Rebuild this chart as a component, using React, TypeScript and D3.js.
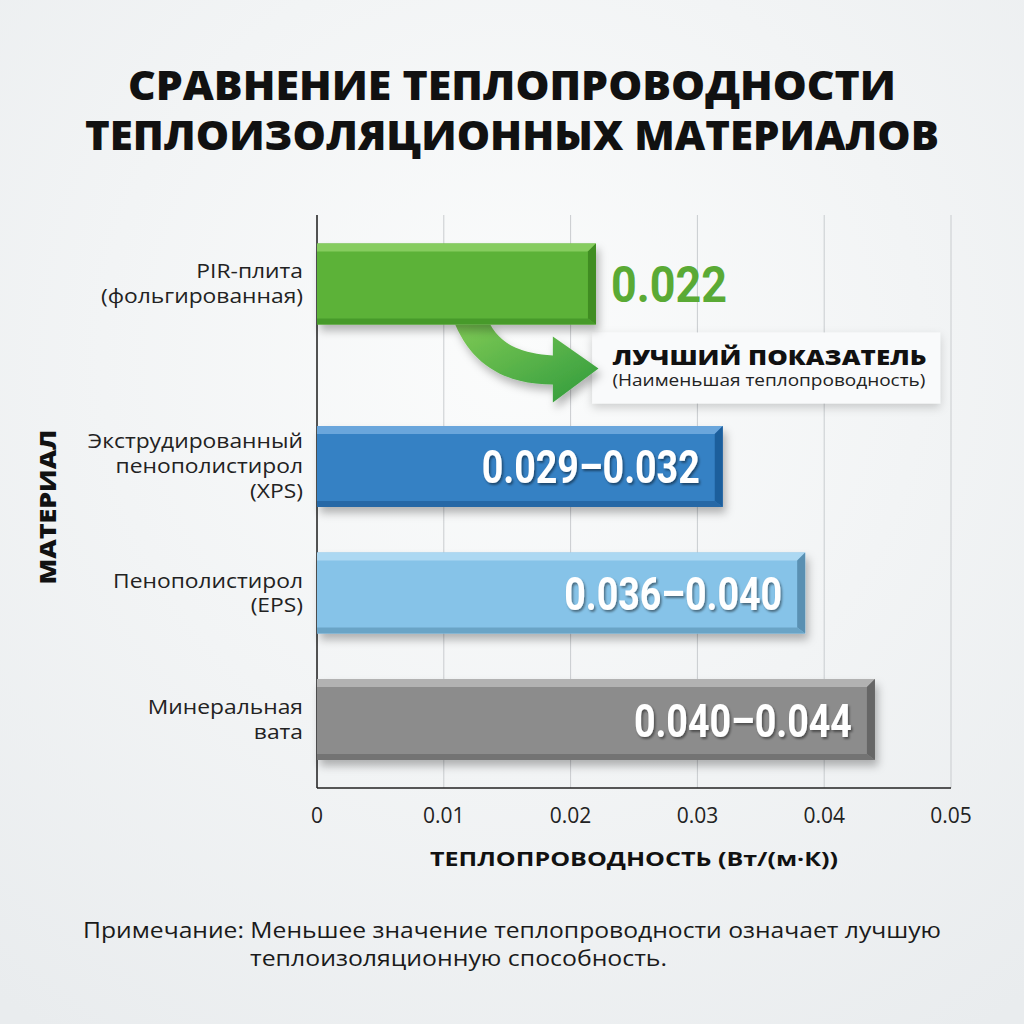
import React from 'react';
import * as d3 from 'd3';

// chart data
const materials = ['PIR', 'XPS', 'EPS', 'MW'];
const materialLabels = [
  ['PIR-плита', '(фольгированная)'],
  ['Экструдированный', 'пенополистирол', '(XPS)'],
  ['Пенополистирол', '(EPS)'],
  ['Минеральная', 'вата'],
];
const barValues = [0.022, 0.032, 0.0385, 0.044];
const valueLabels = ['0.022', '0.029–0.032', '0.036–0.040', '0.040–0.044'];
const xTicks = [0, 0.01, 0.02, 0.03, 0.04, 0.05];

const titleLines = ['СРАВНЕНИЕ ТЕПЛОПРОВОДНОСТИ', 'ТЕПЛОИЗОЛЯЦИОННЫХ МАТЕРИАЛОВ'];
const xTitle = 'ТЕПЛОПРОВОДНОСТЬ (Вт/(м·К))';
const yTitle = 'МАТЕРИАЛ';
const calloutTitle = 'ЛУЧШИЙ ПОКАЗАТЕЛЬ';
const calloutSub = '(Наименьшая теплопроводность)';
const noteLines = [
  'Примечание: Меньшее значение теплопроводности означает лучшую',
  'теплоизоляционную способность.',
];

// bar palettes: face, top bevel, right bevel, bottom bevel
const palettes = [
  { face: '#5cb238', top: '#86cc5e', right: '#3f8d24', bottom: '#469a2b' },
  { face: '#3481c4', top: '#6aa6dc', right: '#1f5f9c', bottom: '#2768a6' },
  { face: '#86c3e8', top: '#acd8f2', right: '#5a90b2', bottom: '#6ba4c6' },
  { face: '#8c8c8c', top: '#b2b2b2', right: '#666666', bottom: '#737373' },
];

const W = 1024;
const H = 1024;
const plot = { left: 317, right: 951, top: 215, bottom: 788 };
const PIR_SHIFT = 56; // first bar sits higher to leave room for the callout

const App: React.FC = () => {
  const x = d3.scaleLinear().domain([0, 0.05]).range([plot.left, plot.right]);
  const y = d3.scaleBand<string>().domain(materials).range([299.5, 760]).paddingInner(0.36);
  const bw = y.bandwidth();
  const rowTop = (i: number) => (y(materials[i]) as number) - (i === 0 ? PIR_SHIFT : 0);
  const fmt = (d: number) => (d === 0 ? '0' : d3.format('.2f')(d));
  const bev = 8;
  const font = '"Open Sans", "Noto Sans", sans-serif';
  const numFont = 'Roboto, "Noto Sans", sans-serif';

  const pirBottom = rowTop(0) + bw;
  const ax = x(0.0109);
  const hx = x(0.0186);
  const tipX = x(0.0222);
  const cy = pirBottom + 45;

  return (
    <svg width={W} height={H} style={{ position: 'absolute', left: 0, top: 0 }}>
      <defs>
        <radialGradient id="bg" cx="0.5" cy="0.35" r="0.8">
          <stop offset="0" stopColor="#fbfcfc" />
          <stop offset="1" stopColor="#e9ecee" />
        </radialGradient>
        <linearGradient id="arrowGrad" x1="0" y1="0" x2="1" y2="1">
          <stop offset="0" stopColor="#7fca55" />
          <stop offset="1" stopColor="#2f9a3c" />
        </linearGradient>
        <filter id="shadow" x="-10%" y="-20%" width="130%" height="160%">
          <feDropShadow dx="3" dy="6" stdDeviation="4" floodColor="#000" floodOpacity="0.28" />
        </filter>
        <filter id="softShadow" x="-10%" y="-30%" width="130%" height="180%">
          <feDropShadow dx="0" dy="4" stdDeviation="5" floodColor="#000" floodOpacity="0.18" />
        </filter>
        <filter id="textShadow" x="-10%" y="-20%" width="130%" height="150%">
          <feDropShadow dx="1.5" dy="2" stdDeviation="1.2" floodColor="#000" floodOpacity="0.45" />
        </filter>
      </defs>
      <rect width={W} height={H} fill="url(#bg)" />

      {/* title */}
      {titleLines.map((t, i) => (
        <text
          key={t}
          x={W / 2}
          y={100 + i * 50}
          textAnchor="middle"
          fontFamily={font}
          fontWeight={800}
          fontSize={40}
          fill="#111"
          textLength={i === 0 ? 768 : 854}
          lengthAdjust="spacingAndGlyphs"
        >
          {t}
        </text>
      ))}

      {/* grid */}
      {xTicks.map((t) => (
        <line key={t} x1={x(t)} x2={x(t)} y1={plot.top} y2={plot.bottom} stroke="#c9cccf" strokeWidth={1} />
      ))}
      <line x1={plot.left} x2={plot.left} y1={plot.top} y2={plot.bottom} stroke="#222" strokeWidth={1.5} />
      <line x1={plot.left} x2={plot.right} y1={plot.bottom} y2={plot.bottom} stroke="#222" strokeWidth={1.5} />

      {/* tick labels */}
      {xTicks.map((t) => (
        <text key={t} x={x(t)} y={823} textAnchor="middle" fontFamily={font} fontSize={21} fill="#222">
          {fmt(t)}
        </text>
      ))}
      <text
        x={(plot.left + plot.right) / 2}
        y={866}
        textAnchor="middle"
        fontFamily={font}
        fontWeight={700}
        fontSize={20}
        fill="#111"
        textLength={408}
        lengthAdjust="spacingAndGlyphs"
      >
        {xTitle}
      </text>
      <text
        transform={`translate(${56},${507}) rotate(-90)`}
        textAnchor="middle"
        fontFamily={font}
        fontWeight={800}
        fontSize={23}
        fill="#111"
        textLength={155}
        lengthAdjust="spacingAndGlyphs"
      >
        {yTitle}
      </text>

      {/* category labels */}
      {materialLabels.map((lines, i) => {
        const cyRow = rowTop(i) + bw / 2;
        const lh = 25;
        const start = cyRow - ((lines.length - 1) * lh) / 2 + 7;
        return (
          <g key={i} transform={`translate(303,0) scale(1.17,1)`}>
            <text textAnchor="end" fontFamily={font} fontSize={19.5} fill="#222">
              {lines.map((l, j) => (
                <tspan key={j} x={0} y={start + j * lh}>
                  {l}
                </tspan>
              ))}
            </text>
          </g>
        );
      })}

      {/* callout box */}
      <rect x={x(0.0217)} y={pirBottom + 8} width={348} height={71} fill="#f9fafb" filter="url(#softShadow)" />
      <text
        x={x(0.0233)}
        y={pirBottom + 41}
        fontFamily={font}
        fontWeight={800}
        fontSize={21}
        fill="#111"
        textLength={314}
        lengthAdjust="spacingAndGlyphs"
      >
        {calloutTitle}
      </text>
      <text
        x={x(0.0233)}
        y={pirBottom + 62}
        fontFamily={font}
        fontSize={16}
        fill="#222"
        textLength={313}
        lengthAdjust="spacingAndGlyphs"
      >
        {calloutSub}
      </text>

      {/* arrow */}
      <path
        d={`M${ax},${pirBottom} C${ax + 18},${pirBottom + 42} ${ax + 52},${cy + 15} ${hx},${cy + 15}
            L${hx},${cy + 33} L${tipX},${cy - 1} L${hx},${cy - 33} L${hx},${cy - 14}
            C${hx - 32},${cy - 16} ${ax + 46},${pirBottom + 20} ${ax + 35},${pirBottom} Z`}
        fill="url(#arrowGrad)"
        filter="url(#shadow)"
      />

      {/* bars */}
      {barValues.map((v, i) => {
        const p = palettes[i];
        const x0 = x(0);
        const x1 = x(v);
        const y0 = rowTop(i);
        const y1 = y0 + bw;
        return (
          <g key={materials[i]} filter="url(#shadow)">
            <rect x={x0} y={y0} width={x1 - x0} height={bw} fill={p.face} />
            <path d={`M${x0},${y0} L${x1},${y0} L${x1 - bev},${y0 + bev} L${x0},${y0 + bev} Z`} fill={p.top} />
            <path d={`M${x1},${y0} L${x1},${y1} L${x1 - bev},${y1 - bev + 2} L${x1 - bev},${y0 + bev} Z`} fill={p.right} />
            <path d={`M${x0},${y1 - bev + 2} L${x1 - bev},${y1 - bev + 2} L${x1},${y1} L${x0},${y1} Z`} fill={p.bottom} />
          </g>
        );
      })}

      {/* value labels */}
      {valueLabels.map((l, i) => {
        const cyRow = rowTop(i) + bw / 2;
        if (i === 0) {
          return (
            <text
              key={l}
              x={x(barValues[i]) + 15}
              y={cyRow + 18}
              fontFamily={numFont}
              fontWeight={700}
              fontSize={50}
              fill="#5aaa35"
              textLength={116}
              lengthAdjust="spacingAndGlyphs"
            >
              {l}
            </text>
          );
        }
        return (
          <text
            key={l}
            x={x(barValues[i]) - 23}
            y={cyRow + 17}
            textAnchor="end"
            fontFamily={numFont}
            fontWeight={700}
            fontSize={46}
            fill="#fff"
            filter="url(#textShadow)"
            textLength={218}
            lengthAdjust="spacingAndGlyphs"
          >
            {l}
          </text>
        );
      })}

      {/* note */}
      <text x={512} y={938} textAnchor="middle" fontFamily={font} fontSize={21} fill="#1a1a1a" textLength={858} lengthAdjust="spacingAndGlyphs">
        {noteLines[0]}
      </text>
      <text x={250} y={966} fontFamily={font} fontSize={21} fill="#1a1a1a" textLength={417} lengthAdjust="spacingAndGlyphs">
        {noteLines[1]}
      </text>
    </svg>
  );
};

export default App;
